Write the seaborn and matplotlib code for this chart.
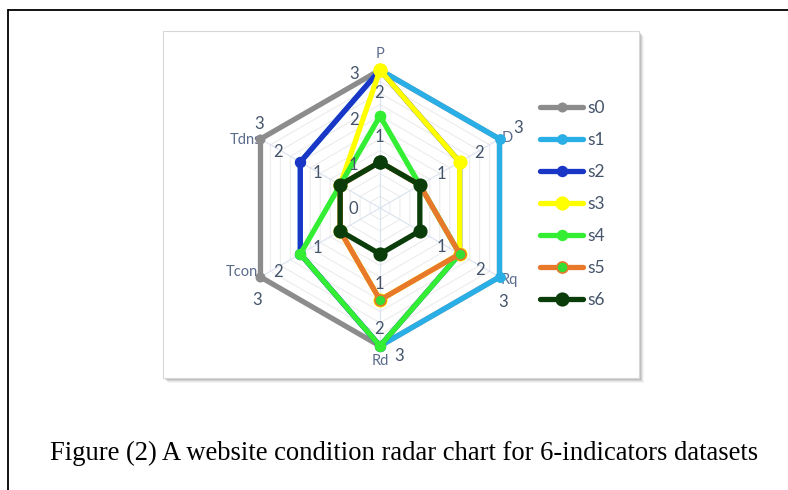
import numpy as np
import pandas as pd
import matplotlib
matplotlib.use("Agg")
import matplotlib.pyplot as plt
from matplotlib.patches import Rectangle
from matplotlib.lines import Line2D
import seaborn as sns

# indicators, clockwise from the top
indicators = ["P", "D", "Rq", "Rd", "Tcon", "Tdns"]
series_names = ["s0", "s1", "s2", "s3", "s4", "s5", "s6"]
s0 = [3, 3, 3, 3, 3, 3]
s1 = [3, 3, 3, 3, 2, 2]
s2 = [3, 2, 2, 3, 2, 2]
s3 = [3, 2, 2, 2, 1, 1]
s4 = [2, 1, 2, 3, 2, 1]
s5 = [1, 1, 2, 2, 1, 1]
s6 = [1, 1, 1, 1, 1, 1]
all_series = [s0, s1, s2, s3, s4, s5, s6]
max_value = 3

sns.set_theme(style="white")
plt.rcParams["font.family"] = ["Lato", "DejaVu Sans"]

W, H = 788, 490
fig = plt.figure(figsize=(W / 100, H / 100), dpi=100)
fig.patch.set_facecolor("white")

# page border (top and left only)
fig.add_artist(Line2D([8 / W, 1], [480 / H, 480 / H], color="black", lw=1.3))
fig.add_artist(Line2D([8 / W, 8 / W], [0, 480 / H], color="black", lw=1.3))

# chart panel with a soft shadow
px0, py0, pw, ph = 163, 112, 476, 347
for k, a in zip([5, 4, 3, 2], [0.08, 0.12, 0.18, 0.25]):
    fig.add_artist(Rectangle(((px0 + k) / W, (py0 - k) / H), pw / W, ph / H,
                             transform=fig.transFigure, facecolor="#808080",
                             edgecolor="none", alpha=a, zorder=-3))
fig.add_artist(Rectangle((px0 / W, py0 / H), pw / W, ph / H, transform=fig.transFigure,
                         facecolor="white", edgecolor="#d8d8d8", lw=0.8, zorder=-2))

# radar axes: centre at (380, 208) px from top, 46 px per unit
cx, cy, scale, lim = 380, H - 208, 46, 3.5
half = scale * lim
ax = fig.add_axes([(cx - half) / W, (cy - half) / H, 2 * half / W, 2 * half / H])
ax.set_xlim(-lim, lim)
ax.set_ylim(-lim, lim)
ax.set_axis_off()
ax.patch.set_alpha(0)

angles = np.arange(len(indicators)) * 2 * np.pi / len(indicators)


def to_xy(values):
    v = np.append(values, values[0])
    a = np.append(angles, angles[0])
    return v * np.sin(a), v * np.cos(a)


# hexagonal grid and spokes
for r in np.arange(0.25, max_value + 0.01, 0.25):
    gx, gy = to_xy(np.full(len(indicators), r))
    ax.plot(gx, gy, color="#ececec", lw=0.8, zorder=1)
for a in angles:
    ax.plot([0, max_value * np.sin(a)], [0, max_value * np.cos(a)],
            color="#dde4f0", lw=0.9, zorder=1)

colors = ["#8c8c8c", "#2aaee6", "#1a36c6", "#ffff00", "#33ee33", "#e8792b", "#0b3d0b"]
face = ["#8c8c8c", "#2aaee6", "#1a36c6", "#ffff00", "#33ee33", "#33dd33", "#0b3d0b"]
msize = [6, 6.5, 7, 9, 7, 8, 9]

for i, (name, vals) in enumerate(zip(series_names, all_series)):
    xs, ys = to_xy(np.array(vals, dtype=float))
    df = pd.DataFrame({"x": xs, "y": ys})
    sns.lineplot(data=df, x="x", y="y", sort=False, estimator=None, ax=ax,
                 color=colors[i], lw=3.8, marker="o", markersize=msize[i],
                 markerfacecolor=face[i], markeredgecolor=colors[i],
                 markeredgewidth=1.2, label=name, zorder=3 + i, legend=False)

# category labels
num_color = "#44546A"
cat_color = "#5a6b8c"
cat_pos = [(0, 3.35), (2.76, 1.52), (2.82, -1.57), (0, -3.32), (-3.0, -1.39), (-2.93, 1.48)]
for name, (tx, ty) in zip(indicators, cat_pos):
    ax.text(tx, ty, name, ha="center", va="center", fontsize=10.5, color=cat_color, zorder=2)

# value labels
num_labels = [
    ("3", -0.57, 2.91), ("2", -0.02, 2.50), ("2", -0.57, 1.91), ("1", -0.02, 1.54),
    ("1", -0.57, 0.93), ("0", -0.57, -0.02),
    ("3", -2.63, 1.83), ("2", -2.22, 1.22), ("1", -1.37, 0.76),
    ("1", -1.37, -0.87), ("2", -2.22, -1.39), ("3", -2.67, -2.0),
    ("1", -0.02, -1.65), ("2", -0.02, -2.63), ("3", 0.42, -3.22),
    ("1", 1.33, -0.85), ("2", 2.17, -1.35), ("3", 2.67, -2.04),
    ("3", 3.0, 1.74), ("2", 2.15, 1.2), ("1", 1.33, 0.74),
]
for t, tx, ty in num_labels:
    ax.text(tx, ty, t, ha="center", va="center", fontsize=12, color=num_color, zorder=20)

handles, labels = ax.get_legend_handles_labels()
leg = fig.legend(handles, labels, loc="upper left", bbox_to_anchor=(540 / W, (H - 100) / H),
                 frameon=False, fontsize=12.5, handlelength=2.5, handletextpad=0.2,
                 labelspacing=0.92, borderpad=0, borderaxespad=0)
for txt in leg.get_texts():
    txt.set_color(num_color)

fig.text(404 / W, 30 / H, "Figure (2) A website condition radar chart for 6-indicators datasets",
         ha="center", va="baseline", fontsize=19.2, family="Liberation Serif", color="black")

fig.savefig("out.png", dpi=100)
